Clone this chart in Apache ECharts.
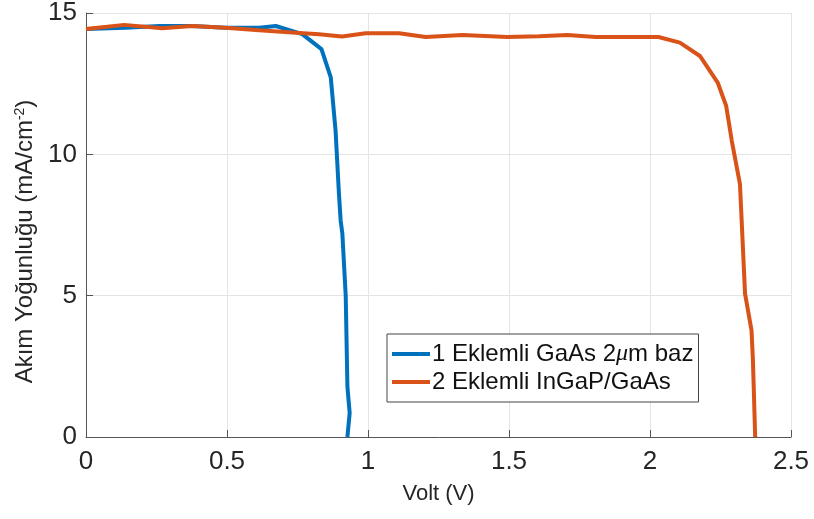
<!DOCTYPE html>
<html>
<head>
<meta charset="utf-8">
<script src="https://cdn.jsdelivr.net/npm/echarts@6/dist/echarts.min.js"></script>
<style>html,body{margin:0;padding:0;background:#fff;}#c{width:814px;height:519px;}</style>
</head>
<body>
<div id="c"></div>
<script>
var gaasV = [0, 0.14, 0.26, 0.376, 0.495, 0.614, 0.673, 0.767, 0.835, 0.868, 0.885, 0.897, 0.903, 0.909, 0.921, 0.927, 0.935, 0.927];
var gaasJ = [14.43, 14.48, 14.54, 14.54, 14.48, 14.48, 14.54, 14.25, 13.72, 12.72, 10.84, 8.6, 7.66, 7.2, 5.0, 1.78, 0.85, 0.0];
var ingapV = [0, 0.135, 0.27, 0.376, 0.495, 0.614, 0.731, 0.826, 0.908, 0.992, 1.11, 1.205, 1.335, 1.494, 1.606, 1.707, 1.807, 2.03, 2.106, 2.177, 2.24, 2.27, 2.29, 2.319, 2.337, 2.36, 2.365, 2.373];
var ingapJ = [14.43, 14.58, 14.46, 14.54, 14.48, 14.39, 14.31, 14.25, 14.17, 14.28, 14.28, 14.15, 14.22, 14.15, 14.18, 14.22, 14.15, 14.15, 13.95, 13.48, 12.54, 11.72, 10.48, 8.95, 5.07, 3.77, 2.71, 0];
var seriesNames = ['1 Eklemli GaAs 2\u03bcm baz', '2 Eklemli InGaP/GaAs'];
var xTitle = 'Volt (V)';
var yTitle = 'Akım Yoğunluğu (mA/cm{sup|-2}){pad|}';

function pairs(xs, ys) { return xs.map(function (x, i) { return [x, ys[i]]; }); }

var font = "Arial, 'Liberation Sans', Helvetica, sans-serif";
var chart = echarts.init(document.getElementById('c'), null, {renderer: 'canvas'});
chart.setOption({
  animation: false,
  backgroundColor: '#fff',
  grid: {left: 86, right: 23, top: 12, bottom: 82},
  legend: {
    orient: 'vertical', left: 387, top: 334,
    backgroundColor: '#fff',
    borderColor: '#444', borderWidth: 1,
    padding: [8, 5, 8, 5],
    itemWidth: 38, itemHeight: 4, itemGap: 4,
    icon: 'rect',
    formatter: function (name) { return name.replace('\u03bc', '{mu|\u03bc}'); },
    textStyle: {fontFamily: font, fontSize: 24, lineHeight: 24, color: '#111', padding: [0, 0, 0, -3],
      rich: {mu: {fontFamily: "'Liberation Serif', 'Times New Roman', serif", fontStyle: 'italic', fontSize: 24, lineHeight: 24, color: '#111'}}},
    data: seriesNames
  },
  xAxis: {
    type: 'value', min: 0, max: 2.5, interval: 0.5,
    name: xTitle, nameLocation: 'middle', nameGap: 46,
    nameTextStyle: {fontFamily: font, fontSize: 22, color: '#262626'},
    axisLine: {show: true, lineStyle: {color: '#555', width: 1}},
    axisTick: {show: true, inside: true, length: 7, lineStyle: {color: '#555'}},
    axisLabel: {fontFamily: font, fontSize: 26, color: '#262626', margin: 12},
    splitLine: {show: true, lineStyle: {color: '#e4e4e4', width: 1}}
  },
  yAxis: {
    type: 'value', min: 0, max: 15, interval: 5,
    name: yTitle, nameLocation: 'middle', nameGap: 27, nameRotate: 90,
    nameTextStyle: {fontFamily: font, fontSize: 24, color: '#262626',
      rich: {sup: {fontFamily: font, fontSize: 14, color: '#262626', verticalAlign: 'top', padding: [0, 0, 11, 0]},
             pad: {width: 33}}},
    axisLine: {show: true, lineStyle: {color: '#555', width: 1}},
    axisTick: {show: true, inside: true, length: 7, lineStyle: {color: '#555'}},
    axisLabel: {fontFamily: font, fontSize: 26, color: '#262626', margin: 9},
    splitLine: {show: true, lineStyle: {color: '#e4e4e4', width: 1}}
  },
  series: [
    {name: seriesNames[0], type: 'line', data: pairs(gaasV, gaasJ), showSymbol: false, symbol: 'none',
      lineStyle: {color: '#0072BD', width: 4}, itemStyle: {color: '#0072BD'}, z: 2},
    {name: seriesNames[1], type: 'line', data: pairs(ingapV, ingapJ), showSymbol: false, symbol: 'none',
      lineStyle: {color: '#D95319', width: 4}, itemStyle: {color: '#D95319'}, z: 3}
  ]
});
</script>
</body>
</html>
